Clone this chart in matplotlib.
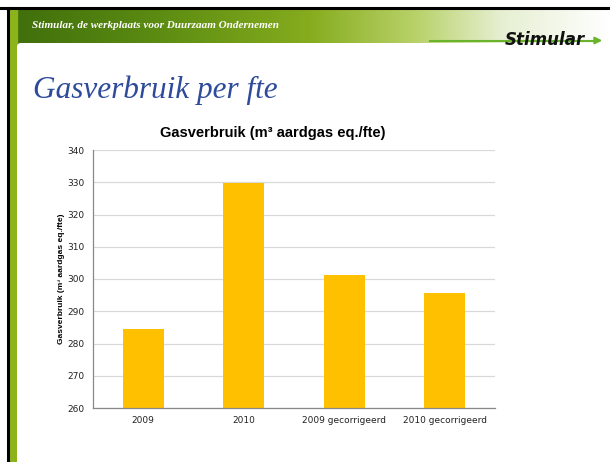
import numpy as np
import matplotlib
matplotlib.use('Agg')
import matplotlib.pyplot as plt
from matplotlib.colors import LinearSegmentedColormap
from matplotlib.patches import FancyBboxPatch, Rectangle

# Chart data
categories = ['2009', '2010', '2009 gecorrigeerd', '2010 gecorrigeerd']
values = [284.5, 329.7, 301.1, 295.6]
yticks = [260, 270, 280, 290, 300, 310, 320, 330, 340]

W, H = 610, 462
fig = plt.figure(figsize=(W / 100, H / 100), dpi=100)

# Background layer in pixel coordinates (y down)
bg = fig.add_axes([0, 0, 1, 1])
bg.set_xlim(0, W)
bg.set_ylim(H, 0)
bg.axis('off')

# Header gradient
cmap = LinearSegmentedColormap.from_list('hdr', [
    (0.0, '#3f6e0c'), (0.25, '#5c8c12'), (0.5, '#86ac1e'),
    (0.68, '#b9d26a'), (0.82, '#e6efd2'), (1.0, '#ffffff')])
grad = np.linspace(0, 1, 256).reshape(1, -1)
bg.imshow(grad, cmap=cmap, aspect='auto', extent=(9, W, 50, 9), zorder=1)
# Left green strip
bg.add_patch(Rectangle((9, 9), 8, H, color='#8cb31a', zorder=1))
# Black frame lines
bg.plot([0, W], [8, 8], color='black', lw=2.2, zorder=3)
bg.plot([8, 8], [8, H], color='black', lw=2.2, zorder=3)
# White content panel
bg.add_patch(FancyBboxPatch((17, 43), W, H, boxstyle='round,pad=0,rounding_size=4',
                            fc='white', ec='none', zorder=2))
# Header text
bg.text(32, 25, 'Stimular, de werkplaats voor Duurzaam Ondernemen',
        color='white', fontsize=8, fontweight='bold', fontstyle='italic',
        family='Liberation Serif', va='center', ha='left', zorder=4)
# Logo line and arrow
bg.plot([430, 595], [40.5, 40.5], color='#6ab42d', lw=1.5, zorder=4)
bg.annotate('', xy=(605, 40.5), xytext=(592, 40.5),
            arrowprops=dict(arrowstyle='-|>', color='#6ab42d', lw=1.5, mutation_scale=10),
            zorder=4)
bg.text(545, 40, 'Stimular', color='#111111', fontsize=12, fontweight='bold',
        fontstyle='italic', family='DejaVu Sans', va='center', ha='center', zorder=5)

# Slide heading
bg.text(33, 90, 'Gasverbruik per fte', color='#2e4b9b', fontsize=22.5,
        fontstyle='italic', family='Liberation Serif', va='center', ha='left', zorder=4)

# Chart title, centred over the whole chart area
bg.text(273, 133, 'Gasverbruik (m³ aardgas eq./fte)', fontsize=10.5, fontweight='bold',
        family='Liberation Sans', va='center', ha='center', zorder=4)

# Chart
ax = fig.add_axes([93 / W, 1 - 408 / H, 402 / W, 258 / H])
x = np.arange(len(categories))
ax.bar(x, values, width=0.41, color='#ffc000', zorder=2)
ax.set_xlim(-0.5, len(categories) - 0.5)
ax.set_ylim(260, 340)
ax.set_yticks(yticks)
ax.set_xticks(x)
ax.set_xticklabels(categories)
ax.tick_params(axis='both', length=0, labelsize=6.5, colors='#222222', pad=6)
ax.yaxis.grid(True, color='#d9d9d9', lw=0.9, zorder=0)
for s in ['top', 'right']:
    ax.spines[s].set_visible(False)
for s in ['left', 'bottom']:
    ax.spines[s].set_color('#888888')
    ax.spines[s].set_linewidth(0.9)

ax.set_ylabel('Gasverbruik (m³ aardgas eq./fte)', fontsize=6, fontweight='bold',
              family='Liberation Sans', labelpad=2)

fig.savefig('out.png', dpi=100)
